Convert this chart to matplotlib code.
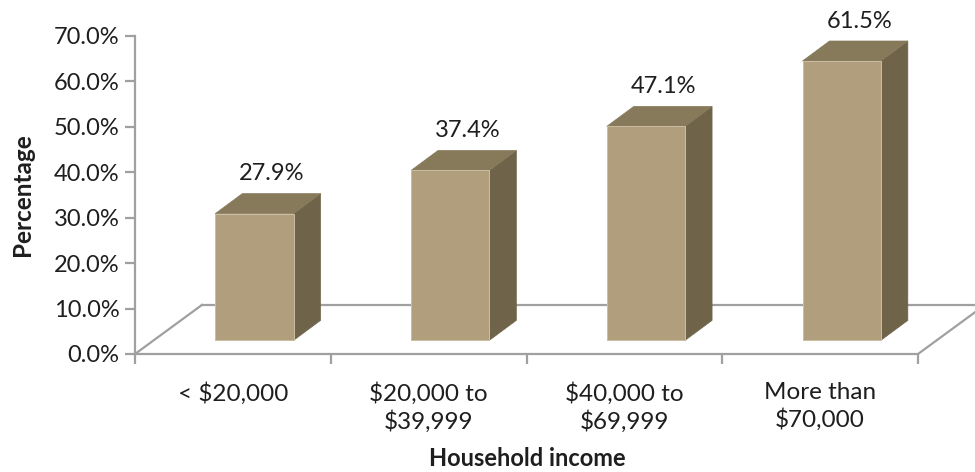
import matplotlib
matplotlib.use("Agg")
import matplotlib.pyplot as plt
from matplotlib.patches import Polygon

plt.rcParams['font.family'] = ['Lato', 'DejaVu Sans']

# Data
categories = ["< $20,000", "$20,000 to\n$39,999", "$40,000 to\n$69,999", "More than\n$70,000"]
values = [27.9, 37.4, 47.1, 61.5]
y_ticks = [0, 10, 20, 30, 40, 50, 60, 70]
y_tick_labels = [f"{t:.1f}%" for t in y_ticks]

# Pseudo-3D geometry (in data units: x = category, y = percent)
FLOOR_DX, FLOOR_DY = 0.342, 10.8     # depth of the floor plane
BAR_OX, BAR_OY = 0.11, 3.0           # offset of bar front face into the floor
BAR_DX, BAR_DY = 0.138, 4.4          # depth of each bar
BAR_W = 0.40

FRONT = "#B09E7D"
TOP = "#877A5B"
SIDE = "#6F644A"
GRID = "#A0A0A0"
TEXT = "#1E1E1E"

W, H = 975, 472
fig = plt.figure(figsize=(W / 100, H / 100), dpi=100)
x0, x1 = 135, 918
y0, y1 = 354, 36
ax = fig.add_axes([x0 / W, (H - y0) / H, (x1 - x0) / W, (y0 - y1) / H])
n = len(categories)
ax.set_xlim(-0.5, n - 0.5)
ax.set_ylim(0, 70)

# Floor
floor_kw = dict(color=GRID, lw=1.6, clip_on=False, zorder=1)
ax.plot([-0.5 + FLOOR_DX, n - 0.5 + FLOOR_DX], [FLOOR_DY, FLOOR_DY], **floor_kw)
ax.plot([-0.5, -0.5 + FLOOR_DX], [0, FLOOR_DY], **floor_kw)
ax.plot([n - 0.5, n - 0.5 + FLOOR_DX], [0, FLOOR_DY], **floor_kw)

# Bars
for i, v in enumerate(values):
    xl = i + BAR_OX - BAR_W / 2
    xr = i + BAR_OX + BAR_W / 2
    yb = BAR_OY
    yt = BAR_OY + v
    side = Polygon([(xr, yb), (xr + BAR_DX, yb + BAR_DY), (xr + BAR_DX, yt + BAR_DY), (xr, yt)],
                   closed=True, facecolor=SIDE, edgecolor=SIDE, lw=0.5, clip_on=False, zorder=3)
    top = Polygon([(xl, yt), (xl + BAR_DX, yt + BAR_DY), (xr + BAR_DX, yt + BAR_DY), (xr, yt)],
                  closed=True, facecolor=TOP, edgecolor=TOP, lw=0.5, clip_on=False, zorder=3)
    front = Polygon([(xl, yb), (xr, yb), (xr, yt), (xl, yt)],
                    closed=True, facecolor=FRONT, edgecolor="#CBBEA3", lw=0.7, clip_on=False, zorder=4)
    for p in (side, top, front):
        ax.add_patch(p)
    ax.text(i + BAR_OX + 0.09, yt + BAR_DY + 4.4, f"{v:.1f}%", ha="center", va="center",
            fontsize=17, color=TEXT, zorder=5, clip_on=False)

# Axes styling
for s in ("top", "right"):
    ax.spines[s].set_visible(False)
ax.spines["left"].set_color(GRID)
ax.spines["left"].set_linewidth(1.6)
ax.spines["bottom"].set_color(GRID)
ax.spines["bottom"].set_linewidth(1.6)
ax.set_facecolor("none")

ax.set_yticks(y_ticks)
ax.set_yticklabels(y_tick_labels)
ax.tick_params(axis="y", length=7, width=1.6, color=GRID, labelsize=17, labelcolor=TEXT, pad=4)

ax.set_xticks([k - 0.5 for k in range(n + 1)])
ax.set_xticklabels([])
ax.tick_params(axis="x", which="major", length=7, width=1.6, color=GRID)
ax.set_xticks(range(n), minor=True)
ax.set_xticklabels(categories, minor=True)
ax.tick_params(axis="x", which="minor", length=0, labelsize=17.5, labelcolor=TEXT, pad=20)
for lbl in ax.get_xticklabels(minor=True):
    lbl.set_linespacing(1.3)

fig.text(22 / W, 1 - 195 / H, "Percentage", ha="center", va="center", rotation=90,
         fontsize=17.5, fontweight="bold", color=TEXT)
fig.text(527 / W, 1 - 459 / H, "Household income", ha="center", va="center",
         fontsize=17, fontweight="bold", color=TEXT)

fig.savefig("out.png", dpi=100)
